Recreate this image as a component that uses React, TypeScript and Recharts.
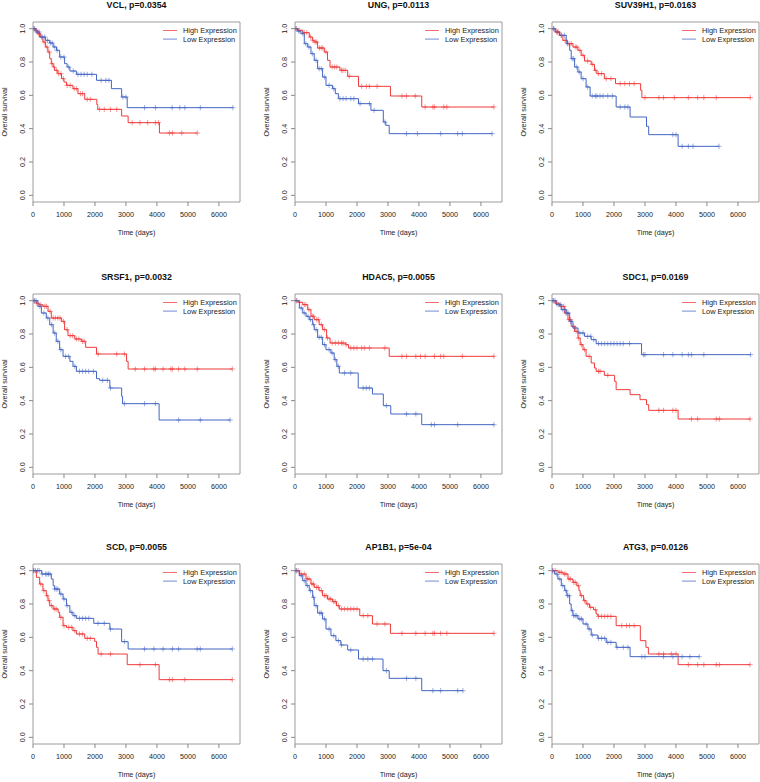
import React from 'react';
import { ComposedChart, Line, Scatter, XAxis, YAxis, ReferenceArea, Legend } from 'recharts';

const HIGH = '#f03a3a';
const LOW = '#4466c4';
const FONT = '"Liberation Sans", Arial, sans-serif';

const xTicks = [0, 1000, 2000, 3000, 4000, 5000, 6000];
const yTicks = [0, 0.2, 0.4, 0.6, 0.8, 1.0];

// [time, survival after the drop]
const vclHigh = [[0,1],[60,0.99],[150,0.97],[250,0.95],[320,0.92],[400,0.89],[480,0.86],[540,0.82],[590,0.79],[650,0.77],[700,0.75],[800,0.73],[920,0.7],[1000,0.68],[1080,0.66],[1290,0.64],[1450,0.61],[1670,0.576],[2060,0.545],[2090,0.516],[2860,0.476],[3070,0.436],[4080,0.374]];
const vclHighCens = [30,100,180,270,360,450,520,610,680,760,830,900,980,1100,1200,1330,1400,1530,1600,1750,1850,2150,2300,2500,2700,3200,3450,3700,3950,4050,4400,4500,4800,5300];
const vclLow = [[0,1],[100,0.98],[215,0.95],[400,0.93],[540,0.914],[650,0.89],[760,0.87],[860,0.83],[1020,0.79],[1100,0.77],[1190,0.746],[1400,0.726],[2050,0.69],[2530,0.64],[2860,0.59],[3040,0.526]];
const vclLowCens = [50,130,200,300,380,470,560,620,700,780,900,1000,1150,1300,1450,1550,1650,1750,1900,2200,2350,2450,2900,3000,3600,3950,4490,4740,4900,5400,6450];

const ungHigh = [[0,1],[100,0.99],[250,0.976],[460,0.95],[560,0.93],[620,0.92],[730,0.884],[945,0.86],[1050,0.81],[1130,0.77],[1450,0.75],[1700,0.714],[2050,0.654],[3080,0.596],[4090,0.53]];
const ungHighCens = [40,150,300,380,500,580,650,700,790,850,900,1000,1200,1280,1350,1500,1550,1620,1750,2150,2300,2400,2650,3450,3600,3880,4200,4450,4500,4800,4900,6420];
const ungLow = [[0,1],[80,0.985],[190,0.97],[300,0.91],[410,0.89],[515,0.85],[620,0.81],[730,0.76],[890,0.71],[1000,0.66],[1210,0.64],[1300,0.61],[1400,0.58],[2050,0.55],[2450,0.51],[2850,0.44],[2930,0.42],[3040,0.37]];
const ungLowCens = [30,120,250,350,450,560,680,780,850,950,1100,1250,1450,1550,1650,1800,1900,2100,2400,2550,2900,3600,3950,4700,5250,5400,6360];

const suvHigh = [[0,1],[120,0.98],[250,0.96],[350,0.93],[500,0.91],[675,0.89],[836,0.87],[940,0.84],[1050,0.806],[1265,0.786],[1370,0.75],[1450,0.73],[1690,0.7],[2050,0.67],[2860,0.63],[2900,0.586]];
const suvHighCens = [50,150,200,300,420,550,620,750,800,900,1000,1150,1300,1400,1500,1600,1750,1900,2200,2350,2500,2650,3000,3450,3600,3950,4400,4700,4900,5300,6400];
const suvLow = [[0,1],[100,0.98],[245,0.96],[460,0.91],[570,0.87],[620,0.82],[730,0.77],[836,0.74],[940,0.7],[1100,0.65],[1230,0.596],[2070,0.53],[2520,0.47],[3050,0.414],[3120,0.364],[4070,0.294]];
const suvLowCens = [60,180,300,400,500,650,700,800,880,1000,1150,1300,1400,1450,1550,1650,1800,1950,2200,2350,2450,3900,4000,4200,4400,4550,5390];

const srsfHigh = [[0,1],[100,0.985],[200,0.975],[320,0.966],[485,0.936],[590,0.896],[915,0.876],[1020,0.826],[1130,0.79],[1350,0.77],[1560,0.756],[1700,0.72],[2050,0.68],[3020,0.636],[3070,0.59]];
const srsfHighCens = [30,120,250,380,430,550,650,720,800,870,980,1100,1200,1280,1400,1480,1600,1650,2100,2700,2950,3300,3600,3900,3950,4200,4450,4500,4700,4900,5300,6430];
const srsfLow = [[0,1],[160,0.966],[270,0.926],[430,0.896],[540,0.856],[650,0.806],[750,0.756],[860,0.706],[970,0.666],[1190,0.636],[1290,0.606],[1400,0.576],[2050,0.532],[2150,0.522],[2480,0.476],[2860,0.426],[2890,0.382],[4070,0.284]];
const srsfLowCens = [50,100,220,350,480,600,700,800,900,1050,1150,1350,1500,1600,1700,1800,1950,2250,2400,2500,2950,3600,3950,4700,5400,6360];

const hdacHigh = [[0,1],[100,0.99],[250,0.976],[410,0.946],[515,0.906],[620,0.886],[780,0.856],[890,0.826],[1020,0.776],[1130,0.746],[1640,0.736],[1730,0.716],[3040,0.666]];
const hdacHighCens = [40,150,300,350,450,560,600,700,750,850,950,1050,1200,1300,1400,1500,1550,1650,1800,1900,2000,2150,2250,2400,2900,3450,3600,3900,4050,4200,4500,4700,4800,5400,6420];
const hdacLow = [[0,1],[140,0.956],[250,0.926],[355,0.906],[460,0.886],[570,0.856],[620,0.826],[730,0.78],[890,0.736],[1000,0.706],[1160,0.686],[1265,0.646],[1350,0.606],[1430,0.566],[2040,0.476],[2500,0.44],[2850,0.37],[3090,0.32],[4090,0.256]];
const hdacLowCens = [60,200,300,420,500,600,680,780,850,950,1100,1200,1300,1400,1600,1800,2200,2300,2400,2950,3600,3900,4400,4500,5250,6420];

const sdcHigh = [[0,1],[100,0.985],[245,0.966],[410,0.926],[515,0.886],[620,0.846],[730,0.816],[840,0.776],[910,0.736],[1000,0.706],[1100,0.666],[1265,0.626],[1370,0.596],[1425,0.576],[1690,0.552],[2020,0.516],[2070,0.466],[2520,0.436],[2840,0.406],[3050,0.376],[3120,0.342],[4070,0.29]];
const sdcHighCens = [50,150,300,380,450,550,600,700,780,850,950,1050,1200,1500,1550,1800,3450,3600,3900,4000,4500,4700,5300,5400,6390];
const sdcLow = [[0,1],[140,0.976],[300,0.946],[460,0.926],[570,0.876],[675,0.836],[840,0.806],[1050,0.786],[1265,0.766],[1425,0.742],[2890,0.676]];
const sdcLowCens = [30,100,200,280,350,420,480,520,600,750,900,1000,1150,1250,1350,1500,1600,1700,1800,1900,2000,2100,2200,2300,2500,2950,3000,3600,3900,4200,4400,4500,4900,6410];

const scdHigh = [[0,1],[110,0.96],[215,0.92],[320,0.88],[430,0.85],[485,0.82],[540,0.79],[650,0.77],[810,0.75],[860,0.72],[970,0.67],[1080,0.66],[1290,0.64],[1400,0.62],[1670,0.594],[1990,0.576],[2050,0.54],[2100,0.5],[3040,0.436],[4070,0.346]];
const scdHighCens = [20,250,350,450,520,600,700,750,900,1000,1150,1250,1350,1500,1600,1750,1850,2200,2500,3450,3950,4400,4500,4900,6430];
const scdLow = [[0,1],[280,0.98],[590,0.95],[650,0.91],[700,0.89],[860,0.86],[970,0.83],[1080,0.79],[1190,0.75],[1290,0.73],[1400,0.714],[1960,0.684],[2480,0.65],[2860,0.574],[3070,0.53]];
const scdLowCens = [30,80,150,200,300,400,450,500,550,700,750,800,900,1000,1100,1250,1350,1500,1600,1700,1800,2100,2300,2500,2950,3600,3900,4200,4500,4700,5300,5400,6430];

const apHigh = [[0,1],[140,0.98],[355,0.95],[515,0.92],[620,0.9],[780,0.88],[890,0.85],[1050,0.83],[1210,0.814],[1340,0.79],[1430,0.77],[2090,0.73],[2500,0.68],[3080,0.624]];
const apHighCens = [30,100,200,300,400,450,550,600,700,750,850,950,1000,1100,1150,1250,1300,1400,1500,1600,1700,1800,1900,2000,2200,2350,2650,2900,3450,3900,4200,4450,4500,4700,4900,6420];
const apLow = [[0,1],[140,0.97],[250,0.94],[355,0.91],[460,0.88],[570,0.84],[620,0.79],[730,0.746],[890,0.71],[1000,0.65],[1160,0.61],[1320,0.58],[1480,0.554],[1700,0.524],[2050,0.47],[2840,0.4],[3040,0.354],[4090,0.28]];
const apLowCens = [50,200,300,400,500,600,680,800,850,950,1100,1250,1400,1500,1800,2200,2350,2500,2950,3600,3900,4450,4700,5250,5420];

const atgHigh = [[0,1],[200,0.99],[355,0.98],[515,0.95],[675,0.93],[800,0.91],[870,0.88],[910,0.85],[1020,0.82],[1100,0.8],[1210,0.78],[1340,0.766],[1425,0.74],[1480,0.726],[2070,0.67],[2850,0.58],[3030,0.54],[3110,0.5],[4070,0.436]];
const atgHighCens = [30,100,250,300,400,450,550,600,700,750,850,950,1050,1150,1250,1400,1500,1600,1700,1800,1900,2250,2400,2500,2650,3450,3600,3850,4000,4400,4700,4900,5300,5400,6390];
const atgLow = [[0,1],[85,0.98],[190,0.95],[300,0.91],[410,0.88],[480,0.85],[570,0.8],[620,0.76],[675,0.73],[840,0.71],[1000,0.68],[1160,0.65],[1265,0.614],[1480,0.594],[1750,0.57],[2070,0.54],[2520,0.484]];
const atgLowCens = [20,150,250,350,450,500,550,650,700,750,800,900,950,1100,1200,1300,1500,1600,1700,1800,1900,2100,2300,2450,2900,3000,3600,3900,4200,4450,4750];

const titles = ['VCL, p=0.0354', 'UNG, p=0.0113', 'SUV39H1, p=0.0163', 'SRSF1, p=0.0032', 'HDAC5, p=0.0055', 'SDC1, p=0.0169', 'SCD, p=0.0055', 'AP1B1, p=5e-04', 'ATG3, p=0.0126'];
const highSteps = [vclHigh, ungHigh, suvHigh, srsfHigh, hdacHigh, sdcHigh, scdHigh, apHigh, atgHigh];
const highCens = [vclHighCens, ungHighCens, suvHighCens, srsfHighCens, hdacHighCens, sdcHighCens, scdHighCens, apHighCens, atgHighCens];
const lowSteps = [vclLow, ungLow, suvLow, srsfLow, hdacLow, sdcLow, scdLow, apLow, atgLow];
const lowCens = [vclLowCens, ungLowCens, suvLowCens, srsfLowCens, hdacLowCens, sdcLowCens, scdLowCens, apLowCens, atgLowCens];
const legendNames = ['High Expression', 'Low Expression'];

const boxLeft = [33, 295, 552];
const boxTop = [22, 294, 564];
const BOX_W = 207;

function survAt(steps, t) {
  let s = 1;
  for (const [ti, si] of steps) if (ti <= t) s = si;
  return s;
}

function curve(steps, cens) {
  const pts = steps.map(([t, s]) => ({ t, s }));
  const end = Math.max(...cens);
  if (end > pts[pts.length - 1].t) pts.push({ t: end, s: pts[pts.length - 1].s });
  return pts;
}

const plus = (color) => (p) => (
  <path d={`M${p.cx - 2.6},${p.cy}h5.2M${p.cx},${p.cy - 2.6}v5.2`} stroke={color} strokeOpacity={0.6} strokeWidth={0.9} fill="none" />
);

const YTick = (p) => (
  <text x={p.x} y={p.y} transform={`rotate(-90 ${p.x} ${p.y})`} textAnchor="middle" fontSize={7.2} fill="#222" fontFamily={FONT}>
    {Number(p.payload.value).toFixed(1)}
  </text>
);

const LegendBox = () => (
  <svg width={80} height={18} style={{ display: 'block', overflow: 'visible' }}>
    {[HIGH, LOW].map((c, k) => (
      <g key={k}>
        <line x1={0} x2={14} y1={4.5 + k * 8.6} y2={4.5 + k * 8.6} stroke={c} strokeOpacity={0.75} strokeWidth={1} />
        <text x={20} y={4.5 + k * 8.6} dy="0.35em" fontSize={7.4} fill="#222" fontFamily={FONT}>{legendNames[k]}</text>
      </g>
    ))}
  </svg>
);

function Panel({ i }) {
  const col = i % 3;
  const row = Math.floor(i / 3);
  const left = boxLeft[col] - 33;
  const top = boxTop[row] - 22;
  const hi = curve(highSteps[i], highCens[i]);
  const lo = curve(lowSteps[i], lowCens[i]);
  const hiC = highCens[i].map((t) => ({ t, s: survAt(highSteps[i], t) }));
  const loC = lowCens[i].map((t) => ({ t, s: survAt(lowSteps[i], t) }));
  return (
    <div style={{ position: 'absolute', left, top, width: 245, height: 260 }}>
      <div style={{ position: 'absolute', left: 33, width: BOX_W, top: 0, textAlign: 'center', fontFamily: FONT, fontWeight: 'bold', fontSize: 8.8, lineHeight: '10px', color: '#111' }}>
        {titles[i]}
      </div>
      <ComposedChart width={245} height={260} margin={{ top: 22, right: 5, bottom: 22, left: 0 }}>
        <XAxis type="number" dataKey="t" domain={[0, 6680]} ticks={xTicks} allowDataOverflow axisLine={false}
          tickLine={{ stroke: '#888' }} tickSize={4} tickMargin={6} height={36} interval={0}
          tick={{ fontSize: 7.2, fill: '#222', fontFamily: FONT }}
          label={{ value: 'Time (days)', position: 'insideBottom', offset: 3, style: { fontSize: 7.2, fill: '#222', fontFamily: FONT } }} />
        <YAxis type="number" domain={[-0.04, 1.04]} ticks={yTicks} allowDataOverflow axisLine={false}
          tickLine={{ stroke: '#888' }} tickSize={4} tickMargin={4} width={33} interval={0} tick={YTick}
          label={{ value: 'Overall survival', angle: -90, position: 'insideLeft', offset: 4, style: { textAnchor: 'middle', fontSize: 7.2, fill: '#222', fontFamily: FONT } }} />
        <ReferenceArea x1={0} x2={6680} y1={-0.04} y2={1.04} fill="none" stroke="#9c9c9c" strokeWidth={1} ifOverflow="visible" />
        <Line data={hi} dataKey="s" type="stepAfter" stroke={HIGH} strokeWidth={1} dot={false} isAnimationActive={false} />
        <Line data={lo} dataKey="s" type="stepAfter" stroke={LOW} strokeWidth={1} dot={false} isAnimationActive={false} />
        <Scatter data={hiC} dataKey="s" shape={plus(HIGH)} isAnimationActive={false} />
        <Scatter data={loC} dataKey="s" shape={plus(LOW)} isAnimationActive={false} />
        <Legend layout="horizontal" verticalAlign="middle" align="center" content={() => <LegendBox />}
          wrapperStyle={{ left: 163, top: 25.5, width: 80, height: 18 }} />
      </ComposedChart>
    </div>
  );
}

export default function App() {
  return (
    <div style={{ position: 'absolute', left: 0, top: 0, width: 760, height: 782, background: '#fff', overflow: 'hidden' }}>
      {titles.map((_, i) => <Panel key={i} i={i} />)}
    </div>
  );
}
